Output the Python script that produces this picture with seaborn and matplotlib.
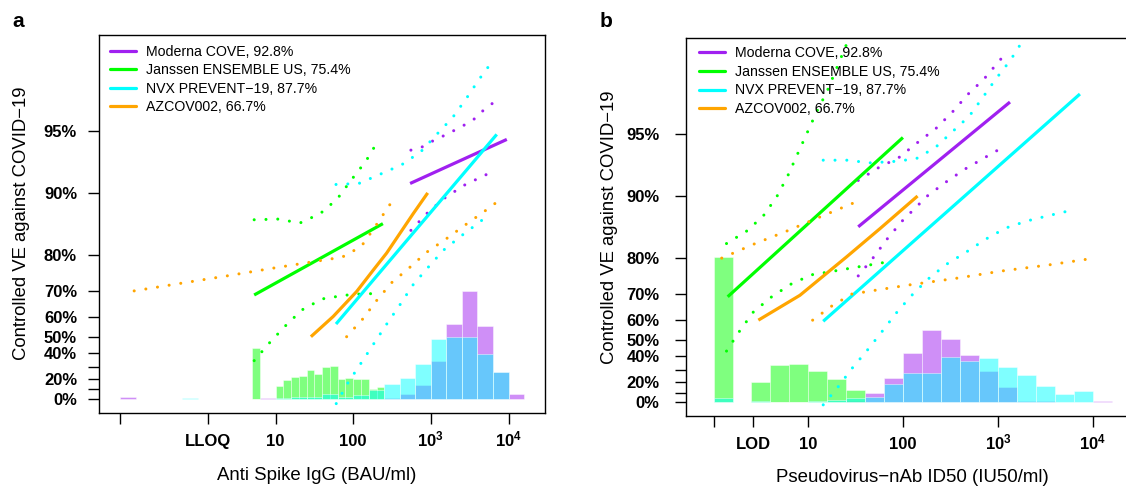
import numpy as np
import pandas as pd
import matplotlib
matplotlib.use("Agg")
import matplotlib.pyplot as plt
from matplotlib.lines import Line2D
from matplotlib.ticker import FixedLocator, NullLocator
import seaborn as sns

# ------------------------------------------------------------------ data
TRIALS = ["Moderna COVE, 92.8%", "Janssen ENSEMBLE US, 75.4%",
          "NVX PREVENT\u221219, 87.7%", "AZCOV002, 66.7%"]
COLORS = ["#A020F0", "#00FF00", "#00FFFF", "#FFA500"]

# ---- panel a : anti Spike IgG (BAU/ml) vs controlled VE (%)
IGG_MOD_X = [540, 9500]
IGG_MOD_VE = [91.0, 94.5]
IGG_MOD_UP_X = [553, 760, 1054, 1432, 1945, 2649, 3556, 4656, 6081, 7603]
IGG_MOD_UP_VE = [93.8, 94.0, 94.4, 94.7, 95.0, 95.3, 95.6, 96.0, 96.3, 96.6]
IGG_MOD_LO_X = [553, 883, 1445, 2649, 4977, 6839]
IGG_MOD_LO_VE = [84.8, 87.4, 89.3, 90.8, 91.8, 92.2]

IGG_JAN_X = [5.3, 241]
IGG_JAN_VE = [68.7, 85.9]
IGG_JAN_UP_X = [5.3, 10.7, 20.6, 37.6, 62.2, 93.3, 146, 208]
IGG_JAN_UP_VE = [86.5, 86.6, 86.0, 87.4, 89.3, 91.3, 93.0, 94.4]
IGG_JAN_LO_X = [5.3, 8.4, 13.3, 21.8, 39.9, 77.4, 156, 216]
IGG_JAN_LO_VE = [34.8, 46.7, 55.7, 63.0, 67.3, 68.6, 69.3, 68.6]

IGG_NVX_X = [60, 7050]
IGG_NVX_VE = [56.7, 94.8]
IGG_NVX_UP_X = [60, 118, 225, 421, 745, 1189, 1910, 2831, 4207, 6180]
IGG_NVX_UP_VE = [90.9, 91.0, 91.9, 92.7, 93.7, 94.8, 95.7, 96.5, 97.2, 97.7]
IGG_NVX_LO_X = [60.4, 84.7, 124.5, 183, 269, 396, 582, 910, 1445, 2495, 4295, 5662]
IGG_NVX_LO_VE = [-5.4, 16.0, 32.5, 45.9, 56.6, 64.9, 71.9, 76.9, 81.0, 83.9, 86.2, 87.3]

IGG_AZ_X = [28.5, 55.2, 110.7, 181, 269, 400, 593, 910]
IGG_AZ_VE = [50.1, 60.2, 69.9, 76.3, 80.4, 84.3, 87.4, 90.0]
IGG_AZ_UP_X = [0.151, 0.59, 2.34, 9.2, 25.8, 72.1, 126.8, 188.8, 337]
IGG_AZ_UP_VE = [70.1, 72.5, 74.7, 76.8, 78.2, 79.5, 81.8, 85.3, 89.4]
IGG_AZ_LO_X = [82.2, 132, 200, 315, 527, 883, 1578, 2773, 4875, 8570]
IGG_AZ_LO_VE = [50.1, 59.0, 66.7, 72.8, 76.9, 80.6, 83.3, 85.7, 87.7, 89.5]

# ---- panel b : pseudovirus nAb ID50 (IU50/ml) vs controlled VE (%)
ID50_MOD_X = [33.6, 1340]
ID50_MOD_VE = [85.9, 96.5]
ID50_MOD_UP_X = [33.6, 54.6, 90.4, 142, 222, 333, 486, 716, 1042, 1253]
ID50_MOD_UP_VE = [91.6, 92.7, 93.5, 94.5, 95.3, 96.1, 96.8, 97.3, 97.8, 98.0]
ID50_MOD_LO_X = [33.6, 48.0, 67.5, 98.0, 179.5, 278, 449, 730, 1205]
ID50_MOD_LO_VE = [75.6, 80.0, 83.8, 86.8, 90.0, 91.4, 92.6, 93.5, 94.3]

ID50_JAN_X = [1.41, 99.5]
ID50_JAN_VE = [69.2, 94.8]
ID50_JAN_UP_X = [1.37, 2.23, 3.34, 4.63, 6.05, 7.64, 9.59, 12.25, 15.8, 28.6]
ID50_JAN_UP_VE = [83.0, 85.2, 87.5, 89.9, 92.0, 93.7, 95.0, 96.1, 96.9, 98.4]
ID50_JAN_LO_X = [1.37, 1.87, 2.62, 4.03, 6.50, 10.8, 18.8, 32.8, 76.2]
ID50_JAN_LO_VE = [43.5, 54.6, 63.4, 69.0, 73.2, 75.9, 76.9, 77.9, 79.3]

ID50_NVX_X = [14.35, 7330]
ID50_NVX_VE = [59.5, 96.8]
ID50_NVX_UP_X = [14.35, 25.4, 44.7, 78.7, 136.5, 220, 327, 498, 700, 953, 1349, 1849]
ID50_NVX_UP_VE = [93.3, 93.3, 93.1, 93.2, 93.4, 94.2, 95.1, 95.9, 96.7, 97.3, 97.8, 98.25]
ID50_NVX_LO_X = [14.35, 20.5, 29.0, 41.8, 59.3, 83.9, 121.6, 182.8, 283, 459, 741,
                 1205, 2037, 3540, 6081]
ID50_NVX_LO_VE = [-3.0, 15.5, 31.6, 44.0, 54.3, 62.9, 69.5, 74.7, 78.5, 81.25, 83.8,
                  85.7, 86.8, 87.6, 88.3]

ID50_AZ_X = [2.97, 8.15, 25.4, 56.9, 142]
ID50_AZ_VE = [60.0, 69.7, 80.3, 85.6, 90.0]
ID50_AZ_UP_X = [1.22, 2.67, 5.90, 12.9, 28.6, 36.7]
ID50_AZ_UP_VE = [80.0, 82.9, 85.2, 87.3, 89.1, 89.6]
ID50_AZ_LO_X = [11.1, 17.6, 28.6, 49.5, 115, 355, 1094, 3396, 10470]
ID50_AZ_LO_VE = [60.0, 65.8, 70.1, 71.3, 73.0, 74.9, 76.9, 78.4, 80.0]

# ---- marker distributions (log10 lower bin edge, relative bar height)
IGG_HIST_MOD_EDGE = [-1.0, 0.8, 2.4, 2.6, 2.8, 3.0, 3.2, 3.4, 3.6, 3.8, 4.0]
IGG_HIST_MOD_H = [0.006, 0.003, 0.003, 0.013, 0.037, 0.101, 0.198, 0.286, 0.193, 0.070, 0.013]
IGG_HIST_JAN_EDGE = [0.7, 1.0, 1.1, 1.2, 1.3, 1.4, 1.5, 1.6, 1.7, 1.8, 1.9, 2.0, 2.1, 2.2, 2.3]
IGG_HIST_JAN_H = [0.135, 0.034, 0.050, 0.059, 0.061, 0.076, 0.066, 0.085, 0.087, 0.052,
                  0.056, 0.053, 0.053, 0.026, 0.032]
IGG_HIST_NVX_EDGE = [-0.2, 0.4, 0.6, 1.0, 1.2, 1.4, 1.6, 1.8, 2.0, 2.2, 2.4, 2.6, 2.8,
                     3.0, 3.2, 3.4, 3.6, 3.8]
IGG_HIST_NVX_H = [0.003, 0.001, 0.001, 0.003, 0.005, 0.005, 0.013, 0.005, 0.011, 0.024,
                  0.040, 0.054, 0.093, 0.159, 0.164, 0.164, 0.119, 0.072]

ID50_HIST_MOD_EDGE = [1.4, 1.6, 1.8, 2.0, 2.2, 2.4, 2.6, 2.8, 3.0, 3.2, 3.4, 3.6, 3.8, 4.0]
ID50_HIST_MOD_H = [0.003, 0.025, 0.064, 0.131, 0.191, 0.167, 0.124, 0.083, 0.039, 0.003,
                   0.003, 0.001, 0.001, 0.003]
ID50_HIST_JAN_EDGE = [0.0, 0.4, 0.6, 0.8, 1.0, 1.2, 1.4]
ID50_HIST_JAN_H = [0.384, 0.054, 0.099, 0.101, 0.083, 0.062, 0.033]
ID50_HIST_NVX_EDGE = [0.0, 0.4, 0.6, 0.8, 1.0, 1.2, 1.4, 1.6, 1.8, 2.0, 2.2, 2.4, 2.6,
                      2.8, 3.0, 3.2, 3.4, 3.6, 3.8]
ID50_HIST_NVX_H = [0.011, 0.003, 0.001, 0.001, 0.003, 0.005, 0.011, 0.013, 0.048, 0.078,
                   0.078, 0.120, 0.110, 0.117, 0.093, 0.071, 0.042, 0.022, 0.030]

# tick positions / labels
IGG_XTICKS = [0.1, 1.34, 10, 100, 1000, 10000]
IGG_XLABELS = ["", "LLOQ", "10", "100", r"$\mathbf{10^3}$", r"$\mathbf{10^4}$"]
ID50_XTICKS = [1, 2.61, 10, 100, 1000, 10000]
ID50_XLABELS = ["", "LOD", "10", "100", r"$\mathbf{10^3}$", r"$\mathbf{10^4}$"]
VE_TICKS = [0, 10, 20, 30, 40, 50, 60, 70, 80, 90, 95]
VE_LABELS = ["0%", "", "20%", "", "40%", "50%", "60%", "70%", "80%", "90%", "95%"]

# ------------------------------------------------------------------ style
sns.set_theme(style="ticks")
plt.rcParams["font.family"] = ["Liberation Sans", "DejaVu Sans"]
plt.rcParams["axes.linewidth"] = 1.0
plt.rcParams["mathtext.fontset"] = "custom"
plt.rcParams["mathtext.rm"] = "Liberation Sans"
plt.rcParams["mathtext.bf"] = "Liberation Sans:bold"
plt.rcParams["text.color"] = "black"
plt.rcParams["axes.labelcolor"] = "black"


def fwd(v):
    v = np.asarray(v, dtype=float)
    return -np.log10(np.clip(1.0 - v / 100.0, 1e-6, None))


def inv(t):
    t = np.asarray(t, dtype=float)
    return 100.0 * (1.0 - 10.0 ** (-t))


DOT = dict(linestyle=(0, (0.01, 3.85)), dash_capstyle="round", lw=2.2)
SOLID = dict(lw=2.3, solid_capstyle="butt")


def curve(ax, x, ve, color, style):
    df = pd.DataFrame({"x": x, "ve": ve})
    sns.lineplot(data=df, x="x", y="ve", ax=ax, color=color, estimator=None,
                 sort=False, legend=False, **style)


def bars(axh, edges, heights, width, color):
    e = np.asarray(edges, float)
    left = 10.0 ** e
    right = 10.0 ** (e + width)
    axh.bar(left, heights, width=right - left, align="edge", color=color, alpha=0.5,
            edgecolor=(1, 1, 1, 0.4), linewidth=0.6)


def panel(ax, xlim, xticks, xlabels, xlabel, series, hists, legend_anchor, ytick_pad):
    ax.set_xscale("log")
    ax.set_yscale("function", functions=(fwd, inv))
    ax.set_xlim(*xlim)
    ax.set_ylim(inv(-0.067), inv(1.768))

    axh = ax.twinx()
    axh.set_ylim(-0.067 / 1.835, 1 - 0.067 / 1.835)
    for edges, h, w, c in hists:
        bars(axh, edges, h, w, c)
    axh.set_yticks([])
    for s in axh.spines.values():
        s.set_visible(False)
    ax.set_zorder(2)
    axh.set_zorder(1)
    ax.patch.set_visible(False)

    handles = []
    for (xe, ve, xu, vu, xl, vl), c, lab in zip(series, COLORS, TRIALS):
        curve(ax, xu, vu, c, DOT)
        curve(ax, xl, vl, c, DOT)
        curve(ax, xe, ve, c, SOLID)
        handles.append(Line2D([], [], color=c, lw=2.3, label=lab))

    ax.xaxis.set_major_locator(FixedLocator(xticks))
    ax.xaxis.set_minor_locator(NullLocator())
    ax.set_xticklabels(xlabels)
    ax.yaxis.set_major_locator(FixedLocator(VE_TICKS))
    ax.yaxis.set_minor_locator(NullLocator())
    ax.set_yticklabels(VE_LABELS)
    ax.tick_params(axis="both", direction="out", length=8, width=1.0, labelsize=12,
                   colors="black")
    ax.tick_params(axis="x", pad=16)
    ax.tick_params(axis="y", pad=ytick_pad)
    for lbl in ax.get_xticklabels():
        lbl.set_va("baseline")
        lbl.set_fontweight("bold")
    for lbl in ax.get_yticklabels():
        lbl.set_fontweight("bold")

    ax.set_xlabel(xlabel, fontsize=13.4, color="black")
    ax.set_ylabel("Controlled VE against COVID\u221219", fontsize=13.3, color="black")
    for s in ax.spines.values():
        s.set_visible(True)
        s.set_color("black")
        s.set_linewidth(1.0)

    ax.legend(handles=handles, loc="upper left", bbox_to_anchor=legend_anchor,
              frameon=False, fontsize=10.2, handlelength=1.8, handletextpad=0.75,
              labelspacing=0.32, borderaxespad=0, borderpad=0)
    return ax


fig = plt.figure(figsize=(11.26, 4.86), dpi=100)
ax_a = fig.add_axes([0.0882, 0.1508, 0.3955, 0.7778])
ax_b = fig.add_axes([0.6092, 0.1440, 0.4014, 0.7784])

panel(ax_a, (10 ** -1.27, 10 ** 4.465), IGG_XTICKS, IGG_XLABELS, "Anti Spike IgG (BAU/ml)",
      [(IGG_MOD_X, IGG_MOD_VE, IGG_MOD_UP_X, IGG_MOD_UP_VE, IGG_MOD_LO_X, IGG_MOD_LO_VE),
       (IGG_JAN_X, IGG_JAN_VE, IGG_JAN_UP_X, IGG_JAN_UP_VE, IGG_JAN_LO_X, IGG_JAN_LO_VE),
       (IGG_NVX_X, IGG_NVX_VE, IGG_NVX_UP_X, IGG_NVX_UP_VE, IGG_NVX_LO_X, IGG_NVX_LO_VE),
       (IGG_AZ_X, IGG_AZ_VE, IGG_AZ_UP_X, IGG_AZ_UP_VE, IGG_AZ_LO_X, IGG_AZ_LO_VE)],
      [(IGG_HIST_MOD_EDGE, IGG_HIST_MOD_H, 0.2, COLORS[0]),
       (IGG_HIST_JAN_EDGE, IGG_HIST_JAN_H, 0.1, COLORS[1]),
       (IGG_HIST_NVX_EDGE, IGG_HIST_NVX_H, 0.2, COLORS[2])],
      (0.024, 0.974), 8)

panel(ax_b, (10 ** -0.291, 10 ** 4.477), ID50_XTICKS, ID50_XLABELS,
      "Pseudovirus\u2212nAb ID50 (IU50/ml)",
      [(ID50_MOD_X, ID50_MOD_VE, ID50_MOD_UP_X, ID50_MOD_UP_VE, ID50_MOD_LO_X, ID50_MOD_LO_VE),
       (ID50_JAN_X, ID50_JAN_VE, ID50_JAN_UP_X, ID50_JAN_UP_VE, ID50_JAN_LO_X, ID50_JAN_LO_VE),
       (ID50_NVX_X, ID50_NVX_VE, ID50_NVX_UP_X, ID50_NVX_UP_VE, ID50_NVX_LO_X, ID50_NVX_LO_VE),
       (ID50_AZ_X, ID50_AZ_VE, ID50_AZ_UP_X, ID50_AZ_UP_VE, ID50_AZ_LO_X, ID50_AZ_LO_VE)],
      [(ID50_HIST_MOD_EDGE, ID50_HIST_MOD_H, 0.2, COLORS[0]),
       (ID50_HIST_JAN_EDGE, ID50_HIST_JAN_H, 0.2, COLORS[1]),
       (ID50_HIST_NVX_EDGE, ID50_HIST_NVX_H, 0.2, COLORS[2])],
      (0.029, 0.977), 11)

ax_a.yaxis.set_label_coords(-0.156, 0.5)
ax_a.xaxis.set_label_coords(0.487, -0.143)
ax_b.yaxis.set_label_coords(-0.151, 0.5)
ax_b.xaxis.set_label_coords(0.5, -0.139)
ax_a.xaxis.label.set_va("top")
ax_b.xaxis.label.set_va("top")

fig.text(12.5 / 1126, 1 - 26.7 / 486, "a", fontsize=15, fontweight="bold", va="baseline")
fig.text(600 / 1126, 1 - 26.7 / 486, "b", fontsize=15, fontweight="bold", va="baseline")

fig.savefig("out.png", dpi=100)
